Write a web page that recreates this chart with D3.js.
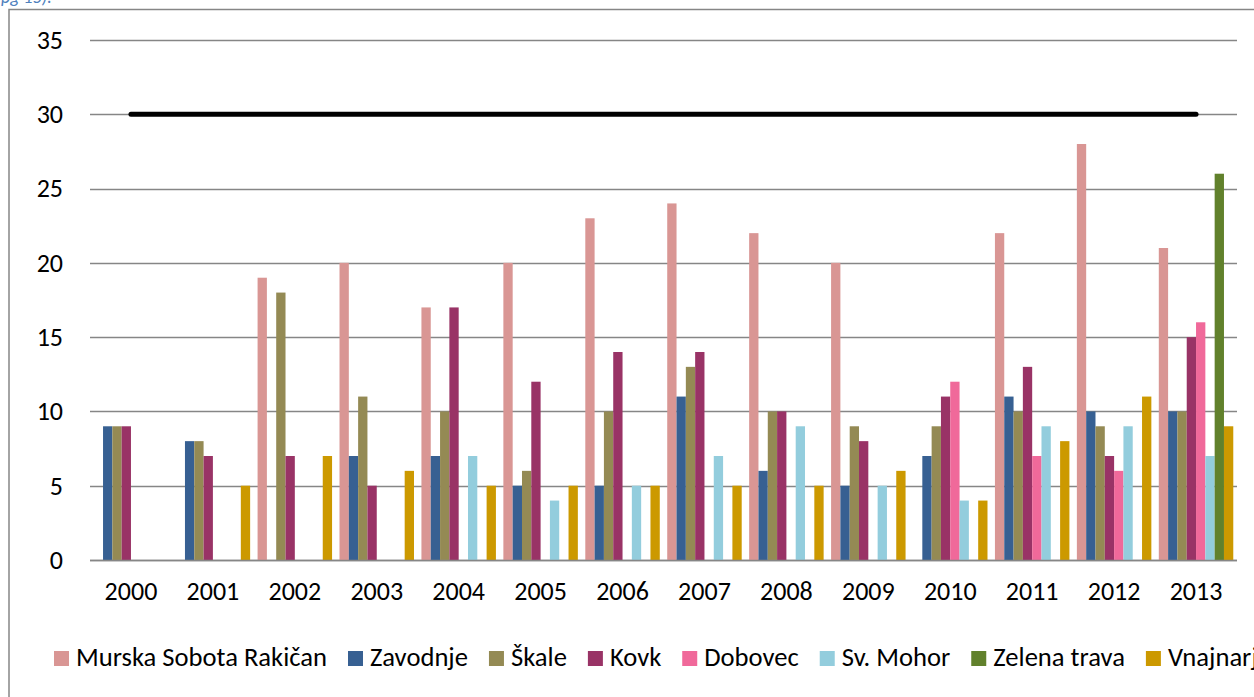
<!DOCTYPE html>
<html>
<head>
<meta charset="utf-8">
<script src="https://cdn.jsdelivr.net/npm/d3@7"></script>
<style>
  html, body { margin: 0; padding: 0; background: #fff; }
  svg { display: block; }
  text { font-family: Carlito, Lato, "Open Sans", sans-serif; fill: #000; }
</style>
</head>
<body>
<svg id="chart" width="1254" height="697"></svg>
<script>
// ---- data ----
const years = ["2000","2001","2002","2003","2004","2005","2006","2007","2008","2009","2010","2011","2012","2013"];
const seriesNames = ["Murska Sobota Rakičan","Zavodnje","Škale","Kovk","Dobovec","Sv. Mohor","Zelena trava","Vnajnarje"];
const murskaSobota = [null,null,19,20,17,20,23,24,22,20,null,22,28,21];
const zavodnje     = [9,8,null,7,7,5,5,11,6,5,7,11,10,10];
const skale        = [9,8,18,11,10,6,10,13,10,9,9,10,9,10];
const kovk         = [9,7,7,5,17,12,14,14,10,8,11,13,7,15];
const dobovec      = [null,null,null,null,null,null,null,null,null,null,12,7,6,16];
const svMohor      = [null,null,null,null,7,4,5,7,9,5,4,9,9,7];
const zelenaTrava  = [null,null,null,null,null,null,null,null,null,null,null,null,null,26];
const vnajnarje    = [null,5,7,6,5,5,5,5,5,6,4,8,11,9];
const limitValue   = [30,30,30,30,30,30,30,30,30,30,30,30,30,30];
const yTicks = [0,5,10,15,20,25,30,35];
const seriesColors = ["#D99694","#376092","#948A54","#993366","#F0699A","#93CDDD","#61812C","#CC9900"];

const seriesValues = [murskaSobota, zavodnje, skale, kovk, dobovec, svMohor, zelenaTrava, vnajnarje];

// ---- layout ----
const svg = d3.select("#chart");
const plot = { left: 90, right: 1237, top: 40, bottom: 560 };
const fontSize = 26;
const legendFontSize = 26.6;

// caption fragment at the top (cut off in the original as well)
svg.append("text")
  .attr("x", 1).attr("y", 3)
  .style("font-style", "italic").style("font-size", "18px").style("fill", "#4F81BD")
  .text("pg 15).");

// chart area border (extends past the window)
svg.append("rect")
  .attr("x", 9).attr("y", 9.5).attr("width", 1300).attr("height", 720)
  .attr("fill", "none").attr("stroke", "#868686").attr("stroke-width", 1.5);

const x = d3.scaleBand().domain(years).range([plot.left, plot.right]).paddingInner(0).paddingOuter(0);
const xs = d3.scaleBand().domain(seriesNames).range([0, x.bandwidth()]).paddingInner(0).paddingOuter(0.4);
const y = d3.scaleLinear().domain([0, 35]).range([plot.bottom, plot.top]);

// gridlines
svg.append("g").selectAll("line").data(yTicks).join("line")
  .attr("x1", plot.left).attr("x2", plot.right)
  .attr("y1", d => Math.round(y(d)) + 0.5).attr("y2", d => Math.round(y(d)) + 0.5)
  .attr("stroke", "#868686").attr("stroke-width", 1.4);

// y axis labels
const yAxis = d3.axisLeft(y).tickValues(yTicks).tickSize(0).tickPadding(0);
const gy = svg.append("g").attr("transform", "translate(63,0)").call(yAxis);
gy.select(".domain").remove();
gy.selectAll("text").style("font-size", fontSize + "px").style("font-family", null).attr("fill", "#000");

// bars
const barData = [];
seriesValues.forEach((vals, si) => {
  vals.forEach((v, yi) => {
    if (v != null) barData.push({ year: years[yi], series: seriesNames[si], value: v, color: seriesColors[si] });
  });
});
svg.append("g").selectAll("rect").data(barData).join("rect")
  .attr("x", d => x(d.year) + xs(d.series))
  .attr("width", xs.bandwidth())
  .attr("y", d => y(d.value))
  .attr("height", d => y(0) - y(d.value))
  .attr("fill", d => d.color);

// x axis line redrawn over bars
svg.append("line")
  .attr("x1", plot.left).attr("x2", plot.right)
  .attr("y1", Math.round(y(0)) + 0.5).attr("y2", Math.round(y(0)) + 0.5)
  .attr("stroke", "#868686").attr("stroke-width", 1.4);

// x axis labels
const xAxis = d3.axisBottom(x).tickSize(0).tickPadding(0);
const gx = svg.append("g").attr("transform", "translate(0,582)").call(xAxis);
gx.select(".domain").remove();
gx.selectAll("text").style("font-size", fontSize + "px").style("font-family", null).attr("fill", "#000").attr("dy", "0.71em");

// limit line
const line = d3.line().x((d, i) => x(years[i]) + x.bandwidth() / 2).y(d => y(d));
svg.append("path").datum(limitValue)
  .attr("d", line).attr("fill", "none").attr("stroke", "#000")
  .attr("stroke-width", 5).attr("stroke-linecap", "round");

// legend
const legend = svg.append("g").attr("transform", "translate(54,651)");
let lx = 0;
seriesNames.forEach((name, i) => {
  const g = legend.append("g").attr("transform", `translate(${lx},0)`);
  g.append("rect").attr("width", 15).attr("height", 15).attr("fill", seriesColors[i]);
  const t = g.append("text").attr("x", 22).attr("y", 15).style("font-size", legendFontSize + "px").text(name);
  lx += 22 + t.node().getComputedTextLength() + 21;
});
</script>
</body>
</html>
